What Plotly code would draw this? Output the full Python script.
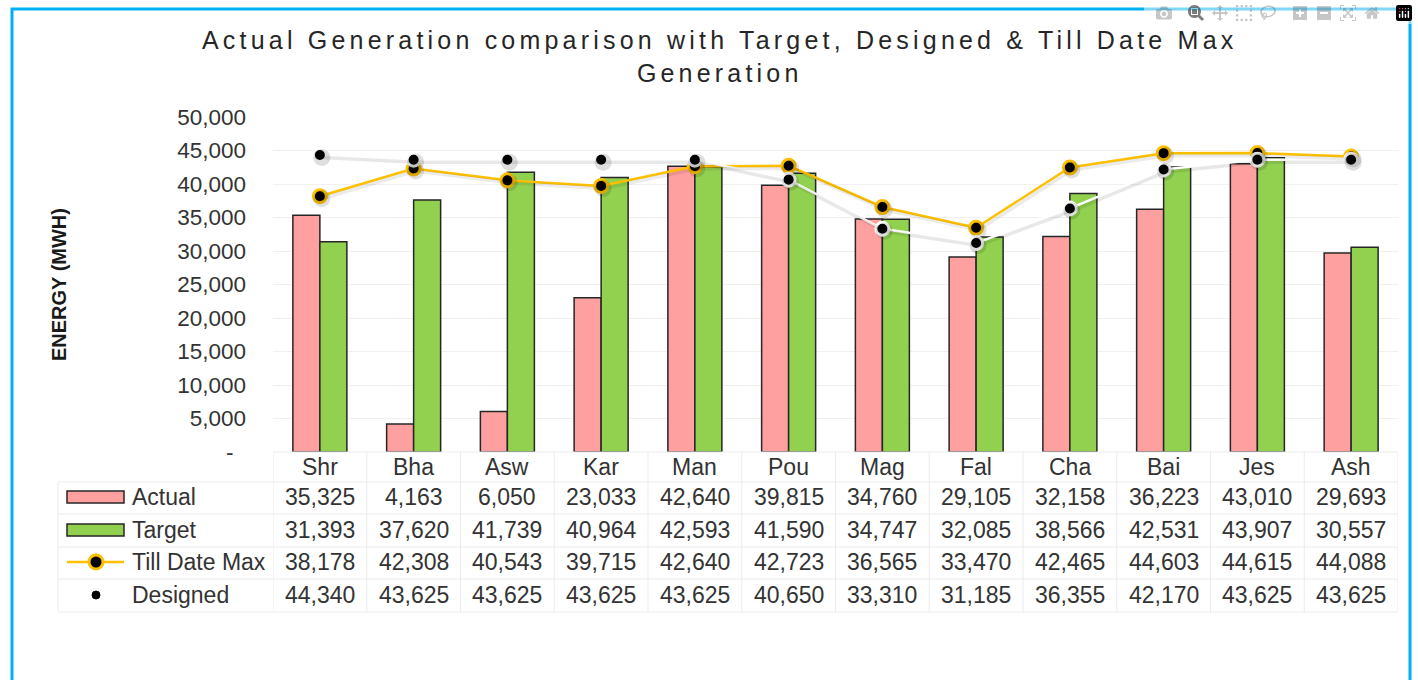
import plotly.graph_objects as go

# ---------------- data ----------------
categories = ["Shr", "Bha", "Asw", "Kar", "Man", "Pou", "Mag", "Fal", "Cha", "Bai", "Jes", "Ash"]
actual = [35325, 4163, 6050, 23033, 42640, 39815, 34760, 29105, 32158, 36223, 43010, 29693]
target = [31393, 37620, 41739, 40964, 42593, 41590, 34747, 32085, 38566, 42531, 43907, 30557]
till_date_max = [38178, 42308, 40543, 39715, 42640, 42723, 36565, 33470, 42465, 44603, 44615, 44088]
designed = [44340, 43625, 43625, 43625, 43625, 40650, 33310, 31185, 36355, 42170, 43625, 43625]

series_names = ["Actual", "Target", "Till Date Max", "Designed"]
y_tick_vals = [0, 5000, 10000, 15000, 20000, 25000, 30000, 35000, 40000, 45000, 50000]
y_tick_text = ["-\u00a0\u00a0", "5,000", "10,000", "15,000", "20,000", "25,000",
               "30,000", "35,000", "40,000", "45,000", "50,000"]
title_lines = ["Actual Generation comparison with Target, Designed & Till Date Max", "Generation"]
y_title = "ENERGY (MWH)"

# ---------------- style ----------------
W, H = 1418, 680
FONT = "Liberation Sans, Arial, sans-serif"
TXT = "#333333"
PINK = "#FFA0A0"
GREEN = "#92D050"
GOLD = "#FFC000"
EDGE = "#262626"
GRIDC = "#EBEBEB"
Y_MAX = 50000


def px(x):
    return x / W


def py(y):
    return 1 - y / H


plot_left, plot_right = 273, 1398
plot_top, plot_bottom = 117, 452
# shadow offset (pixels) expressed in axis units
shadow_dy = 2.5 * Y_MAX / (plot_bottom - plot_top)
shadow_dx = 2.0 * 12 / (plot_right - plot_left)

fig = go.Figure()

fig.add_trace(go.Bar(x=categories, y=actual, name=series_names[0],
                     marker=dict(color=PINK, line=dict(color=EDGE, width=1.5))))
fig.add_trace(go.Bar(x=categories, y=target, name=series_names[1],
                     marker=dict(color=GREEN, line=dict(color=EDGE, width=1.5))))
# soft drop shadows (drawn on slightly offset overlay axes)
fig.add_trace(go.Scatter(x=categories, y=till_date_max, mode="lines+markers", showlegend=False,
                         hoverinfo="skip", xaxis="x2", yaxis="y2",
                         line=dict(color="rgba(0,0,0,0.08)", width=3.5),
                         marker=dict(color="rgba(0,0,0,0.12)", size=17)))
fig.add_trace(go.Scatter(x=categories, y=till_date_max, name=series_names[2], mode="lines+markers",
                         line=dict(color=GOLD, width=2.5),
                         marker=dict(color="black", size=13, line=dict(color=GOLD, width=3))))
fig.add_trace(go.Scatter(x=categories, y=designed, mode="lines+markers", showlegend=False,
                         hoverinfo="skip", xaxis="x2", yaxis="y2",
                         line=dict(color="rgba(0,0,0,0.09)", width=3.5),
                         marker=dict(color="rgba(0,0,0,0.13)", size=17)))
fig.add_trace(go.Scatter(x=categories, y=designed, name=series_names[3], mode="lines+markers",
                         line=dict(color="white", width=2.5),
                         marker=dict(color="black", size=13, line=dict(color="white", width=3))))

annotations = []
# title
ls = "letter-spacing:4.2px"
annotations.append(dict(
    text="<span style='%s'>%s</span><br><span style='%s'>%s</span>" % (ls, title_lines[0], ls, title_lines[1]),
    x=px(719), y=py(56), xref="paper", yref="paper", xanchor="center", yanchor="middle",
    showarrow=False, font=dict(family=FONT, size=25, color="#262626")))
# y-axis title
annotations.append(dict(text="<b>%s</b>" % y_title, x=px(59), y=py(285), xref="paper", yref="paper",
                        textangle=-90, xanchor="center", yanchor="middle", showarrow=False,
                        font=dict(family=FONT, size=20, color="#1a1a1a")))

# data table
row_centers = [467, 497, 530, 562, 595]
row_lines = [452, 482, 514, 547, 579, 612]
table_rows = [actual, target, till_date_max, designed]
for c in categories:
    annotations.append(dict(text=c, x=c, y=py(row_centers[0]), xref="x", yref="paper",
                            xanchor="center", yanchor="middle", showarrow=False,
                            font=dict(family=FONT, size=23, color=TXT)))
for r, vals in enumerate(table_rows):
    yc = py(row_centers[r + 1])
    annotations.append(dict(text=series_names[r], x=px(130), y=yc, xref="paper", yref="paper",
                            xanchor="left", yanchor="middle", showarrow=False,
                            font=dict(family=FONT, size=23, color=TXT)))
    for c, v in zip(categories, vals):
        annotations.append(dict(text=f"{v:,}", x=c, y=yc, xref="x", yref="paper",
                                xanchor="center", yanchor="middle", showarrow=False,
                                font=dict(family=FONT, size=23, color=TXT)))

shapes = []
# outer light-blue frame
shapes.append(dict(type="rect", xref="paper", yref="paper", x0=px(12), x1=px(1410), y0=-0.2, y1=py(9),
                   line=dict(color="#00B0F0", width=3), fillcolor="rgba(0,0,0,0)", layer="below"))
# table grid
shapes.append(dict(type="line", xref="paper", yref="paper", x0=px(plot_left), x1=px(plot_right),
                   y0=py(row_lines[0]), y1=py(row_lines[0]), line=dict(color=GRIDC, width=1)))
for yl in row_lines[1:]:
    shapes.append(dict(type="line", xref="paper", yref="paper", x0=px(58), x1=px(plot_right),
                       y0=py(yl), y1=py(yl), line=dict(color=GRIDC, width=1)))
shapes.append(dict(type="line", xref="paper", yref="paper", x0=px(58), x1=px(58),
                   y0=py(row_lines[1]), y1=py(row_lines[-1]), line=dict(color=GRIDC, width=1)))
for k in range(len(categories) + 1):
    shapes.append(dict(type="line", xref="x", yref="paper", x0=k - 0.5, x1=k - 0.5,
                       y0=py(row_lines[0]), y1=py(row_lines[-1]), line=dict(color=GRIDC, width=1)))
# legend keys inside the table
for r, col in enumerate([PINK, GREEN]):
    yc = row_centers[r + 1]
    shapes.append(dict(type="rect", xref="paper", yref="paper", x0=px(67), x1=px(124),
                       y0=py(yc - 6), y1=py(yc + 6), fillcolor=col, line=dict(color=EDGE, width=1.5)))
yc = row_centers[3]
shapes.append(dict(type="line", xref="paper", yref="paper", x0=px(67), x1=px(124),
                   y0=py(yc), y1=py(yc), line=dict(color=GOLD, width=2.5)))
shapes.append(dict(type="circle", xref="paper", yref="paper", x0=px(89), x1=px(103),
                   y0=py(yc + 7), y1=py(yc - 7), fillcolor="black", line=dict(color=GOLD, width=3)))
yc = row_centers[4]
shapes.append(dict(type="circle", xref="paper", yref="paper", x0=px(92), x1=px(100),
                   y0=py(yc + 4), y1=py(yc - 4), fillcolor="black", line=dict(color="black", width=1)))

fig.update_layout(
    width=W, height=H,
    margin=dict(l=0, r=0, t=0, b=0, pad=0, autoexpand=False),
    paper_bgcolor="white", plot_bgcolor="white",
    showlegend=False,
    barmode="group", bargap=0.424, bargroupgap=0,
    font=dict(family=FONT, color=TXT),
    xaxis=dict(domain=[px(plot_left), px(plot_right)], type="category", range=[-0.5, 11.5],
               showticklabels=False, showgrid=False, zeroline=False, showline=False, ticks="",
               automargin=False),
    yaxis=dict(domain=[py(plot_bottom), py(plot_top)], range=[0, Y_MAX],
               tickvals=y_tick_vals, ticktext=y_tick_text, ticks="", ticklabelstandoff=26,
               showgrid=True, gridcolor="#F0F0F0", gridwidth=1, zeroline=False, showline=False,
               tickfont=dict(family=FONT, size=22.5, color=TXT), automargin=False),
    xaxis2=dict(domain=[px(plot_left), px(plot_right)], type="category", overlaying="x",
                range=[-0.5 - shadow_dx, 11.5 - shadow_dx], visible=False, automargin=False),
    yaxis2=dict(domain=[py(plot_bottom), py(plot_top)], overlaying="y",
                range=[shadow_dy, Y_MAX + shadow_dy], visible=False, automargin=False),
    annotations=annotations,
    shapes=shapes,
)

fig.write_html("out.html", post_script="document.body.style.margin='0';document.body.style.overflow='hidden';")
